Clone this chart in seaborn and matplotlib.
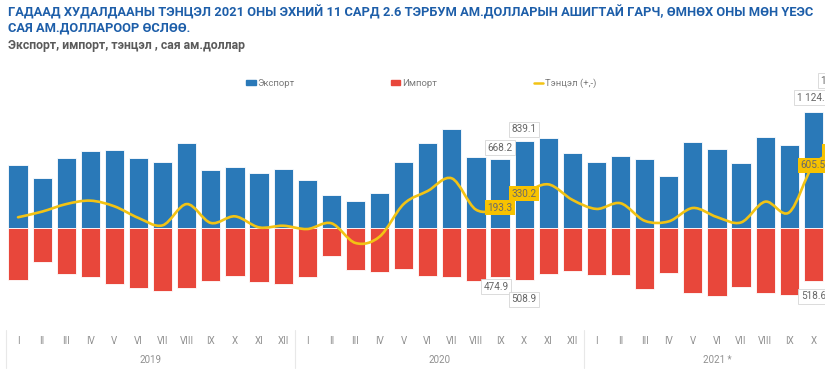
import numpy as np
import pandas as pd
import seaborn as sns
import matplotlib.pyplot as plt
import matplotlib.transforms as mtransforms
from matplotlib.path import Path
from matplotlib.patches import PathPatch
from matplotlib.lines import Line2D
from matplotlib.patches import Patch

#%% data (сая ам.доллар), 2019-I .. 2021-XI
months = ["I", "II", "III", "IV", "V", "VI", "VII", "VIII", "IX", "X", "XI", "XII"]
years = ["2019", "2020", "2021 *"]

export = [608, 485, 678, 743, 753, 675, 633, 817, 559, 585, 526, 565,
          462, 317, 262, 339, 633, 824, 959, 688, 668.2, 839.1, 869, 720,
          640, 695, 665, 497, 827, 762, 623, 882, 801, 1124.6, 1290]
imports = [507, 329, 449, 481, 546, 581, 610, 588, 513, 468, 523, 546,
           475, 274, 410, 426, 404, 468, 481, 513, 474.9, 508.9, 449, 417,
           458, 458, 598, 436, 636, 659, 572, 630, 652, 518.6, 554]
balance = [101, 156, 229, 262, 207, 94, 23, 229, 46, 110, 3, 19,
           -13, 43, -148, -87, 229, 356, 478, 175, 193.3, 330.2, 420, 270,
           182, 237, 67, 61, 191, 103, 51, 252, 149, 605.5, 736]

# which points get a value box
export_labels = [20, 21, 33, 34]
import_labels = [20, 21, 33]
balance_labels = [20, 21, 33, 34]

df = pd.DataFrame({"pos": range(len(export)), "export": export,
                   "import": [-v for v in imports], "balance": balance})

BLUE = "#2a79b8"
RED = "#e8473b"
YELLOW = "#f2c314"

#%% figure
sns.set_theme(style="white")
plt.rcParams["font.family"] = ["Roboto", "DejaVu Sans"]

fig = plt.figure(figsize=(8.25, 3.71), dpi=100)
W, H = 825, 371
# axes deliberately run past the right edge (the picture is cropped there)
left_px, right_px, top_px, bot_px = 6, 849.5, 62, 328
ax = fig.add_axes([left_px / W, 1 - bot_px / H, (right_px - left_px) / W, (bot_px - top_px) / H])

sns.barplot(data=df, x="pos", y="export", color=BLUE, width=0.8, saturation=1,
            edgecolor="white", linewidth=0.6, ax=ax)
sns.barplot(data=df, x="pos", y="import", color=RED, width=0.8, saturation=1,
            edgecolor="white", linewidth=0.6, ax=ax)

# smoothed balance line (excel-style smoothing, bezier through the points)
x = np.arange(len(balance), dtype=float)
y = np.array(balance, dtype=float)
verts = [(x[0], y[0])]
codes = [Path.MOVETO]
t = 1 / 6
for i in range(len(x) - 1):
    p0 = (x[i - 1], y[i - 1]) if i > 0 else (x[i], y[i])
    p1 = (x[i], y[i])
    p2 = (x[i + 1], y[i + 1])
    p3 = (x[i + 2], y[i + 2]) if i + 2 < len(x) else p2
    c1 = (p1[0] + (p2[0] - p0[0]) * t, p1[1] + (p2[1] - p0[1]) * t)
    c2 = (p2[0] - (p3[0] - p1[0]) * t, p2[1] - (p3[1] - p1[1]) * t)
    verts += [c1, c2, p2]
    codes += [Path.CURVE4] * 3
ax.add_patch(PathPatch(Path(verts, codes), fc="none", ec=YELLOW, lw=1.9, zorder=4, capstyle="round"))

ax.set_xlim(-0.5, 34.5)
ax.set_ylim(-(bot_px - 227.7) / 0.1032, (227.7 - top_px) / 0.1032)
ax.set_ylabel("")
ax.set_xlabel("")
ax.set_yticks([])
ax.set_xticks(range(len(export)), [months[i % 12] for i in range(len(export))])
ax.tick_params(axis="x", length=0, pad=6, labelsize=7, labelcolor="#909090")
sns.despine(ax=ax, left=True, bottom=True)


def fmt(v):
    return f"{v:,.1f}".replace(",", " ")


box = dict(boxstyle="square,pad=0.25", fc="white", ec="#d6d6d6", lw=0.6)
exp_off = {20: 6, 21: 7, 33: 9, 34: 9}
for i in export_labels:
    ax.annotate(fmt(export[i]), (i, export[i]), xytext=(0, exp_off[i]), textcoords="offset pixels",
                ha="center", va="bottom", fontsize=7.2, color="#666666", bbox=box, zorder=6)
imp_off = {20: (-4, 5), 21: (0, 14), 33: (0, 10)}
for i in import_labels:
    dx, dy = imp_off[i]
    ax.annotate(fmt(imports[i]), (i, -imports[i]), xytext=(dx, -dy), textcoords="offset pixels",
                ha="center", va="top", fontsize=7.2, color="#666666", bbox=box, zorder=6)
ybox = dict(boxstyle="square,pad=0.25", fc="#f7c200", ec="none")
for i in balance_labels:
    ax.annotate(fmt(balance[i]), (i, balance[i]), ha="center", va="center",
                fontsize=7.2, color="#6a6a6a", bbox=ybox, zorder=7)

# year labels and separators under the axis
trans = mtransforms.blended_transform_factory(ax.transData, fig.transFigure)
for k, yr in enumerate(years):
    n = 12 if k < 2 else 11
    ax.text(12 * k + (n - 1) / 2, 1 - 360 / H, yr, transform=trans, ha="center", va="center",
            fontsize=7, color="#909090")
for xs in [-0.5, 11.5, 23.5]:
    ax.add_line(Line2D([xs, xs], [1 - 330 / H, 1 - 368 / H], transform=trans, color="#e8e8e8",
                       lw=0.8, clip_on=False))

# legend
handles = [Patch(color=BLUE), Patch(color=RED), Line2D([], [], color=YELLOW, lw=1.8)]
fig.legend(handles, ["Экспорт", "Импорт", "Тэнцэл (+,-)"], loc="center left",
           bbox_to_anchor=(0.288, 1 - 83 / H), ncol=3, frameon=False, fontsize=6.8,
           labelcolor="#7a7a7a", handlelength=1.0, handleheight=0.5, handletextpad=0.2,
           columnspacing=10.2)

# titles
fig.text(8 / W, 1 - 12 / H, "ГАДААД ХУДАЛДААНЫ ТЭНЦЭЛ 2021 ОНЫ ЭХНИЙ 11 САРД 2.6 ТЭРБУМ АМ.ДОЛЛАРЫН "
         "АШИГТАЙ ГАРЧ, ӨМНӨХ ОНЫ МӨН ҮЕЭС", ha="left", va="center", fontsize=9.3,
         fontweight="bold", color="#1d5ea9")
fig.text(8 / W, 1 - 28 / H, "САЯ АМ.ДОЛЛАРООР ӨСЛӨӨ.", ha="left", va="center", fontsize=9.3,
         fontweight="bold", color="#1d5ea9")
fig.text(8 / W, 1 - 45 / H, "Экспорт, импорт, тэнцэл , сая ам.доллар", ha="left", va="center",
         fontsize=8.8, fontweight="bold", color="#5a5a5a")

plt.savefig("out.png", dpi=100)
plt.close()
